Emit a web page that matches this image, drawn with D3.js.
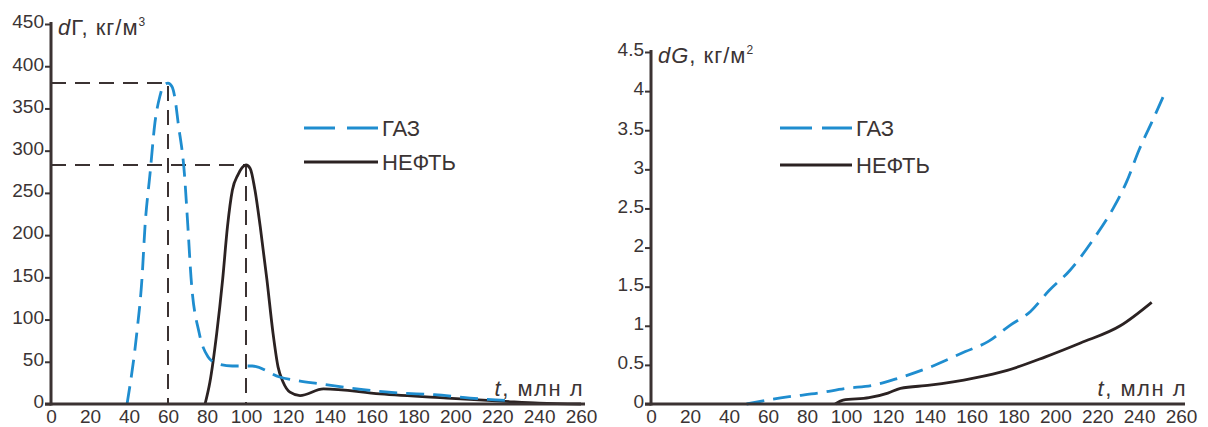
<!DOCTYPE html>
<html>
<head>
<meta charset="utf-8">
<script src="https://cdn.jsdelivr.net/npm/d3@7/dist/d3.min.js"></script>
<style>
  body { margin: 0; background: #fff; }
  svg { display: block; }
  text { font-family: "Liberation Sans", Arial, sans-serif; fill: #3b3434; }
  .tick text { font-size: 19px; }
  .tick line { stroke: #3b3434; stroke-width: 2; }
</style>
</head>
<body>
<div id="chart"></div>
<script>

// tick values
var xTicks = [0, 20, 40, 60, 80, 100, 120, 140, 160, 180, 200, 220, 240, 260]
var leftYTicks = [0, 50, 100, 150, 200, 250, 300, 350, 400, 450]
var rightYTicks = [0, 0.5, 1, 1.5, 2, 2.5, 3, 3.5, 4, 4.5]
var legendLabels = ['ГАЗ', 'НЕФТЬ']

// left panel: dГ, кг/м3 vs t (млн лет)
var gasLeft = [[39, 0], [44, 84], [46.7, 150], [48.2, 210], [50.8, 273], [53.3, 333], [55.9, 365],
  [57.6, 377], [60, 380], [62, 376], [63.5, 363], [65.2, 333], [68.4, 273], [70.2, 210], [71.8, 150],
  [76, 84], [80.5, 56], [85, 48], [93, 45], [103, 45], [116, 32], [124, 28], [135, 24], [156, 17],
  [173, 13], [190, 11], [207, 7], [226, 4]]
var oilLeft = [[79, 0], [81.5, 26], [85, 84], [88, 147], [90.5, 210], [93, 253], [96, 272], [98, 280],
  [100, 283], [102, 279], [104.3, 253], [106.8, 210], [110, 147], [112.9, 84], [115.3, 44], [117.7, 26],
  [121, 14], [125.8, 10], [137, 18], [164, 12], [196, 7], [224, 3], [240, 1], [260, 0]]
var peaksLeft = [[60, 380], [100, 283]]

// right panel: dG, кг/м2 vs t (млн лет)
var gasRight = [[49, 0], [60, 0.05], [70, 0.09], [86, 0.14], [100, 0.2], [113, 0.24], [125, 0.33],
  [140, 0.47], [157, 0.67], [168, 0.8], [178, 1.0], [188, 1.18], [197, 1.45], [207, 1.71], [218, 2.1],
  [228, 2.52], [234, 2.84], [240, 3.25], [246, 3.6], [251.5, 3.93]]
var oilRight = [[94.5, 0], [98.5, 0.05], [111, 0.08], [120, 0.14], [126, 0.2], [140, 0.24], [161, 0.33],
  [177, 0.43], [195, 0.6], [212, 0.78], [231, 1.0], [246, 1.3]]

var W = 1208, H = 427
var axisColor = '#3b3232'
var gasColor = '#1f8dcf'
var oilColor = '#2b2222'

var svg = d3.select('#chart').append('svg')
    .attr('width', W)
    .attr('height', H)

svg.append('rect').attr('width', W).attr('height', H).attr('fill', '#fff')

var panels = [
  {
    x0: 51, yTop: 24, yMax: 450, yTicks: leftYTicks,
    gas: gasLeft, oil: oilLeft, peaks: peaksLeft,
    title: [['d', 'italic'], ['Г, кг/м', 'normal']], sup: '3',
    legend: {x: 304, y: 128, dy: 34, dash: '31,12', len: 74},
    tLabelX: 584
  },
  {
    x0: 651, yTop: 52, yMax: 4.5, yTicks: rightYTicks,
    gas: gasRight, oil: oilRight, peaks: [],
    title: [['dG', 'italic'], [', кг/м', 'normal']], sup: '2',
    legend: {x: 780, y: 128, dy: 37, dash: '32,10', len: 72},
    tLabelX: 1187
  }
]

var y0 = 404

panels.forEach(function(p){
  var x = d3.scaleLinear().domain([0, 100, 260]).range([p.x0, p.x0 + 195, p.x0 + 530])
  var y = d3.scaleLinear().domain([0, p.yMax]).range([y0, p.yTop])
  var g = svg.append('g')

  // guide lines to the peaks
  p.peaks.forEach(function(pk){
    g.append('path')
        .attr('d', 'M' + x(0) + ',' + y(pk[1]) + 'H' + x(pk[0]) + 'V' + y0)
        .attr('fill', 'none')
        .attr('stroke', axisColor)
        .attr('stroke-width', 2)
        .attr('stroke-dasharray', '15,9')
  })

  var line = d3.line()
      .x(function(d){ return x(d[0]) })
      .y(function(d){ return y(d[1]) })
      .curve(d3.curveMonotoneX)

  g.append('path')
      .datum(p.oil)
      .attr('d', line)
      .attr('fill', 'none')
      .attr('stroke', oilColor)
      .attr('stroke-width', 2.8)

  g.append('path')
      .datum(p.gas)
      .attr('d', line)
      .attr('fill', 'none')
      .attr('stroke', gasColor)
      .attr('stroke-width', 2.8)
      .attr('stroke-dasharray', '18,9')

  // y axis
  var yAxis = g.append('g')
      .attr('transform', 'translate(' + p.x0 + ',0)')
      .call(d3.axisLeft(y).tickValues(p.yTicks).tickSize(6).tickPadding(1).tickFormat(d3.format('~g')))
  yAxis.select('.domain').remove()
  yAxis.selectAll('.tick text').attr('dy', '0.2em').attr('fill', '#3b3434')

  // x axis
  var xAxis = g.append('g')
      .attr('transform', 'translate(0,' + y0 + ')')
      .call(d3.axisBottom(x).tickValues(xTicks).tickSize(0).tickPadding(6))
  xAxis.select('.domain').remove()
  xAxis.selectAll('.tick text').attr('fill', '#3b3434')

  g.append('line')
      .attr('x1', p.x0).attr('x2', p.x0)
      .attr('y1', p.yTop - 2).attr('y2', y0 + 1.5)
      .attr('stroke', axisColor).attr('stroke-width', 3)
  g.append('line')
      .attr('x1', p.x0 - 6).attr('x2', p.x0 + 534)
      .attr('y1', y0).attr('y2', y0)
      .attr('stroke', axisColor).attr('stroke-width', 3)

  // axis titles
  var title = g.append('text')
      .attr('x', p.x0 + 7)
      .attr('y', p.yTop + 11)
      .attr('font-size', 22)
      .attr('letter-spacing', 1)
  p.title.forEach(function(t){
    title.append('tspan').attr('font-style', t[1]).text(t[0])
  })
  title.append('tspan').attr('font-size', 12).attr('dy', -9).text(p.sup)

  var tl = g.append('text')
      .attr('x', p.tLabelX)
      .attr('y', y0 - 8)
      .attr('font-size', 22)
      .attr('letter-spacing', 1.5)
      .attr('text-anchor', 'end')
  tl.append('tspan').attr('font-style', 'italic').text('t')
  tl.append('tspan').text(', млн л')

  // legend
  var lg = g.append('g').attr('transform', 'translate(' + p.legend.x + ',' + p.legend.y + ')')
  var item = lg.selectAll('.legend-item')
      .data(legendLabels)
    .enter().append('g')
      .attr('class', 'legend-item')
      .attr('transform', function(d, i){ return 'translate(0,' + i * p.legend.dy + ')' })
  item.append('line')
      .attr('x1', 0).attr('x2', p.legend.len)
      .attr('stroke', function(d, i){ return i === 0 ? gasColor : oilColor })
      .attr('stroke-width', 2.8)
      .attr('stroke-dasharray', function(d, i){ return i === 0 ? p.legend.dash : null })
  item.append('text')
      .attr('x', p.legend.len + 4)
      .attr('dy', '0.36em')
      .attr('font-size', 22)
      .text(function(d){ return d })
})

</script>
</body>
</html>
